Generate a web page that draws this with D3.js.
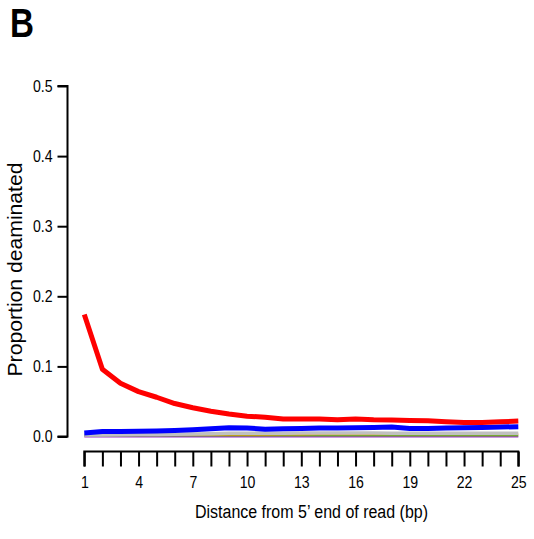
<!DOCTYPE html>
<html>
<head>
<meta charset="utf-8">
<script src="https://cdn.jsdelivr.net/npm/d3@7"></script>
<style>
  body { margin: 0; background: #fff; }
  text { font-family: "Liberation Sans", Arial, sans-serif; fill: #000; }
</style>
</head>
<body>
<div id="content"></div>
<script>
const positions = d3.range(1, 26);
const xTickLabels = [1, 4, 7, 10, 13, 16, 19, 22, 25];
const yTickLabels = [0.0, 0.1, 0.2, 0.3, 0.4, 0.5];

const redValues = [0.174, 0.096, 0.076, 0.064, 0.056, 0.047, 0.041, 0.036, 0.032, 0.029, 0.0276, 0.025, 0.025,
  0.025, 0.024, 0.025, 0.024, 0.0237, 0.023, 0.0224, 0.021, 0.020, 0.020, 0.021, 0.022];
const blueValues = [0.005, 0.007, 0.007, 0.0075, 0.008, 0.0085, 0.0095, 0.011, 0.0125, 0.012, 0.0105, 0.011, 0.0115,
  0.012, 0.012, 0.0125, 0.013, 0.0135, 0.0115, 0.0115, 0.012, 0.0125, 0.013, 0.0135, 0.014];
const grayValues = [0.002, 0.0022, 0.0025, 0.0028, 0.003, 0.0033, 0.0036, 0.004, 0.0045, 0.0045, 0.0045, 0.0047, 0.005,
  0.005, 0.005, 0.005, 0.005, 0.0048, 0.0047, 0.0046, 0.0046, 0.0046, 0.0045, 0.0045, 0.0045];
const orangeValues = [0.0024, 0.0024, 0.0024, 0.0024, 0.0024, 0.0024, 0.0024, 0.0024, 0.0024, 0.0025, 0.0026, 0.0028, 0.003,
  0.0032, 0.0033, 0.0033, 0.0033, 0.0033, 0.0033, 0.0033, 0.0033, 0.0033, 0.0033, 0.0033, 0.0033];
const greenValues = [0.001, 0.001, 0.001, 0.001, 0.001, 0.001, 0.001, 0.001, 0.001, 0.001, 0.001, 0.001, 0.001,
  0.001, 0.001, 0.001, 0.001, 0.001, 0.001, 0.001, 0.001, 0.001, 0.001, 0.001, 0.001];
const purpleValues = [0.0001, 0.0001, 0.0001, 0.0001, 0.0001, 0.0001, 0.0001, 0.0001, 0.0001, 0.0001, 0.0001, 0.0001, 0.0001,
  0.0001, 0.0001, 0.0001, 0.0001, 0.0001, 0.0001, 0.0001, 0.0001, 0.0001, 0.0001, 0.0001, 0.0001];

const series = [
  { values: purpleValues, color: '#9933cc', w: 2 },
  { values: greenValues, color: '#77aa33', w: 1.5 },
  { values: orangeValues, color: '#ff9900', w: 1.5 },
  { values: grayValues, color: '#c0c0c0', w: 3.5 },
  { values: blueValues, color: '#0000ff', w: 5 },
  { values: redValues, color: '#ff0000', w: 5 }
];

const width = 534;
const height = 539;
const squeeze = 0.83; // the original uses a condensed face

const fig = d3.select('#content')
    .append('svg')
    .attr('width', width)
    .attr('height', height);

const x = d3.scaleLinear().domain([1, 25]).range([84.3, 518.3]);
const y = d3.scaleLinear().domain([0, 0.5]).range([436.5, 86]);

function condense(sel, target) {
  sel.each(function () {
    const len = target || this.getComputedTextLength() * squeeze;
    if (len > 0) {
      d3.select(this).attr('textLength', len).attr('lengthAdjust', 'spacingAndGlyphs');
    }
  });
}

// panel letter
fig.append('text')
    .attr('x', 10)
    .attr('y', 37)
    .attr('font-size', 40)
    .attr('font-weight', 'bold')
    .text('B')
    .call(condense);

// y axis
const yAxis = fig.append('g')
    .attr('transform', 'translate(67.5,0)')
    .call(d3.axisLeft(y).tickValues(yTickLabels).tickFormat(d3.format('.1f')).tickSize(10).tickPadding(5));
yAxis.select('.domain').attr('d', `M-10,${y(0.5)}H0V${y(0)}H-10`).attr('stroke-width', 2);
yAxis.selectAll('.tick line').attr('stroke-width', 2);
yAxis.selectAll('.tick text').attr('font-size', 17).attr('font-family', null).call(condense);

// x axis
const xAxis = fig.append('g')
    .attr('transform', 'translate(0,451.5)')
    .call(d3.axisBottom(x).tickValues(positions).tickFormat(d => xTickLabels.includes(d) ? d : '').tickSize(15).tickPadding(9));
xAxis.select('.domain').attr('d', `M${x(1)},15V0H${x(25)}V15`).attr('stroke-width', 2);
xAxis.selectAll('.tick line').attr('stroke-width', 2);
xAxis.selectAll('.tick text').attr('font-size', 17).attr('font-family', null).call(condense);

// titles
fig.append('text')
    .attr('x', 311.5)
    .attr('y', 518)
    .attr('text-anchor', 'middle')
    .attr('font-size', 18)
    .text('Distance from 5\u2019 end of read (bp)')
    .call(condense, 233);

fig.append('text')
    .attr('transform', 'translate(21.5,269.5) rotate(-90)')
    .attr('text-anchor', 'middle')
    .attr('font-size', 19.5)
    .text('Proportion deaminated')
    .call(condense, 214);

const line = d3.line()
    .x((d, i) => x(positions[i]))
    .y(d => y(d));

fig.append('g')
    .selectAll('path')
    .data(series)
    .join('path')
    .attr('d', d => line(d.values))
    .attr('fill', 'none')
    .attr('stroke', d => d.color)
    .attr('stroke-width', d => d.w)
    .attr('stroke-linejoin', 'round');
</script>
</body>
</html>
